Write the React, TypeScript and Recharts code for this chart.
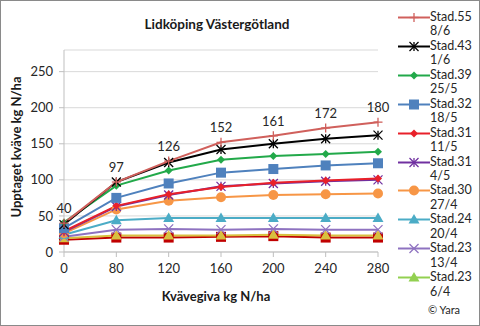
import React from "react";
import { LineChart, Line, XAxis, YAxis, CartesianGrid, LabelList } from "recharts";

const categories = ["0", "80", "120", "160", "200", "240", "280"];
const yTicks = [0, 50, 100, 150, 200, 250];

const stad55 = [40, 97, 126, 152, 161, 172, 180];
const stad43 = [38, 97, 124, 142, 150, 157, 162];
const stad39 = [41, 92, 113, 128, 133, 136, 139];
const stad32 = [33, 75, 95, 110, 115, 120, 123];
const stad31a = [29, 64, 80, 90, 96, 99, 102];
const stad31b = [28, 63, 79, 91, 95, 98, 100];
const stad30 = [26, 59, 71, 76, 79, 80, 81];
const stad24 = [24, 44, 47, 47, 47, 47, 47];
const stad23a = [21, 31, 32, 31, 32, 31, 31];
const stad23b = [19, 23, 23, 23, 24, 23, 23];
const extraSeries = [17, 20, 20, 21, 22, 20, 20]; // dark red squares, not in legend

type Shape = "plus" | "star" | "diamond" | "square" | "circle" | "triangle" | "x";

const SERIES: { key: string; name: string; values: number[]; color: string; shape: Shape; legend: boolean }[] = [
  { key: "s55", name: "Stad.55 8/6", values: stad55, color: "#D0605C", shape: "plus", legend: true },
  { key: "s43", name: "Stad.43 1/6", values: stad43, color: "#000000", shape: "star", legend: true },
  { key: "s39", name: "Stad.39 25/5", values: stad39, color: "#22A94A", shape: "diamond", legend: true },
  { key: "s32", name: "Stad.32 18/5", values: stad32, color: "#4F81BD", shape: "square", legend: true },
  { key: "s31a", name: "Stad.31 11/5", values: stad31a, color: "#E8202A", shape: "diamond", legend: true },
  { key: "s31b", name: "Stad.31 4/5", values: stad31b, color: "#7030A0", shape: "star", legend: true },
  { key: "s30", name: "Stad.30 27/4", values: stad30, color: "#F79646", shape: "circle", legend: true },
  { key: "s24", name: "Stad.24 20/4", values: stad24, color: "#4BACC6", shape: "triangle", legend: true },
  { key: "s23a", name: "Stad.23 13/4", values: stad23a, color: "#8E72C0", shape: "x", legend: true },
  { key: "s23b", name: "Stad.23 6/4", values: stad23b, color: "#D8C040", shape: "triangle", legend: true },
  { key: "extra", name: "", values: extraSeries, color: "#C00000", shape: "square", legend: false },
];

const legendColors: Record<string, string> = { s23b: "#92D050" };

const data = categories.map((c, i) => {
  const row: Record<string, any> = { cat: c };
  SERIES.forEach((s) => (row[s.key] = s.values[i]));
  return row;
});

const FONT = "Lato, 'Open Sans', sans-serif";

function Marker({ cx, cy, shape, color }: { cx: number; cy: number; shape: Shape; color: string }) {
  const r = 4.5;
  switch (shape) {
    case "plus":
      return (
        <g stroke={color} strokeWidth={1.3}>
          <line x1={cx - r} y1={cy} x2={cx + r} y2={cy} />
          <line x1={cx} y1={cy - r} x2={cx} y2={cy + r} />
        </g>
      );
    case "x":
      return (
        <g stroke={color} strokeWidth={1.3}>
          <line x1={cx - r} y1={cy - r} x2={cx + r} y2={cy + r} />
          <line x1={cx - r} y1={cy + r} x2={cx + r} y2={cy - r} />
        </g>
      );
    case "star":
      return (
        <g stroke={color} strokeWidth={1.3}>
          <line x1={cx - r} y1={cy - r} x2={cx + r} y2={cy + r} />
          <line x1={cx - r} y1={cy + r} x2={cx + r} y2={cy - r} />
          <line x1={cx} y1={cy - r} x2={cx} y2={cy + r} />
        </g>
      );
    case "diamond":
      return <path d={`M${cx} ${cy - 4} L${cx + 4} ${cy} L${cx} ${cy + 4} L${cx - 4} ${cy} Z`} fill={color} />;
    case "square":
      return <rect x={cx - 5} y={cy - 5} width={10} height={10} fill={color} />;
    case "circle":
      return <circle cx={cx} cy={cy} r={5} fill={color} />;
    case "triangle":
      return <path d={`M${cx} ${cy - 5.5} L${cx + 5.5} ${cy + 4} L${cx - 5.5} ${cy + 4} Z`} fill={color} />;
  }
  return null;
}

const dotFor = (shape: Shape, color: string) => (p: any) =>
  <Marker key={`${p.dataKey}-${p.index}`} cx={p.cx} cy={p.cy} shape={shape} color={color} />;

export default function App() {
  return (
    <div
      style={{
        position: "absolute",
        left: 0,
        top: 0,
        width: 480,
        height: 326,
        boxSizing: "border-box",
        border: "1px solid #8a8a8a",
        background: "#fff",
        fontFamily: FONT,
      }}
    >
      <div
        style={{
          position: "absolute",
          left: 0,
          width: 432,
          top: 15,
          textAlign: "center",
          fontWeight: 700,
          fontSize: 13.5,
          color: "#1a1a1a",
        }}
      >
        Lidköping Västergötland
      </div>
      <div style={{ position: "absolute", left: -1, top: -1 }}>
        <LineChart width={480} height={326} data={data} margin={{ top: 50, right: 102, bottom: 44, left: 14 }}>
          <CartesianGrid vertical={false} stroke="#d9d9d9" />
          <XAxis
            dataKey="cat"
            height={30}
            stroke="#bfbfbf"
            tickSize={5}
            tickMargin={7}
            tick={{ fill: "#262626", fontSize: 13, fontFamily: FONT }}
            interval={0}
            label={{
              content: () => (
                <text x={216} y={301} textAnchor="middle" fontWeight={700} fontSize={13} fill="#1a1a1a" fontFamily={FONT}>
                  Kvävegiva kg N/ha
                </text>
              ),
            }}
          />
          <YAxis
            width={50}
            domain={[0, 280]}
            ticks={yTicks}
            stroke="#bfbfbf"
            tickSize={5}
            tickMargin={6}
            tick={{ fill: "#262626", fontSize: 13, fontFamily: FONT }}
            label={{
              content: () => (
                <text
                  x={21}
                  y={147}
                  transform="rotate(-90 21 147)"
                  textAnchor="middle"
                  fontWeight={700}
                  fontSize={13}
                  fill="#1a1a1a"
                  fontFamily={FONT}
                >
                  Upptaget kväve kg N/ha
                </text>
              ),
            }}
          />
          {SERIES.slice()
            .reverse()
            .map((s) => (
              <Line
                key={s.key}
                dataKey={s.key}
                name={s.name}
                stroke={s.color}
                strokeWidth={2}
                dot={dotFor(s.shape, s.color)}
                activeDot={false}
                isAnimationActive={false}
              >
                {s.key === "s55" && (
                  <LabelList dataKey="s55" position="top" offset={10} fill="#262626" fontSize={13} fontFamily={FONT} />
                )}
              </Line>
            ))}
        </LineChart>
      </div>
      <div style={{ position: "absolute", left: 397, top: 9, fontSize: 12.5, lineHeight: "14.45px", color: "#262626" }}>
        {SERIES.filter((s) => s.legend).map((s) => {
          const [n, d] = s.name.split(" ");
          const c = legendColors[s.key] || s.color;
          return (
            <div key={s.key} style={{ display: "flex", alignItems: "flex-start" }}>
              <svg width={32} height={14} style={{ flex: "none" }}>
                <line x1={0} y1={7.5} x2={32} y2={7.5} stroke={c} strokeWidth={2} />
                <Marker cx={16} cy={7.5} shape={s.shape} color={c} />
              </svg>
              <div>
                <div>{n}</div>
                <div>{d}</div>
              </div>
            </div>
          );
        })}
        <div style={{ marginLeft: 30, marginTop: 4, fontSize: 11 }}>© Yara</div>
      </div>
    </div>
  );
}
